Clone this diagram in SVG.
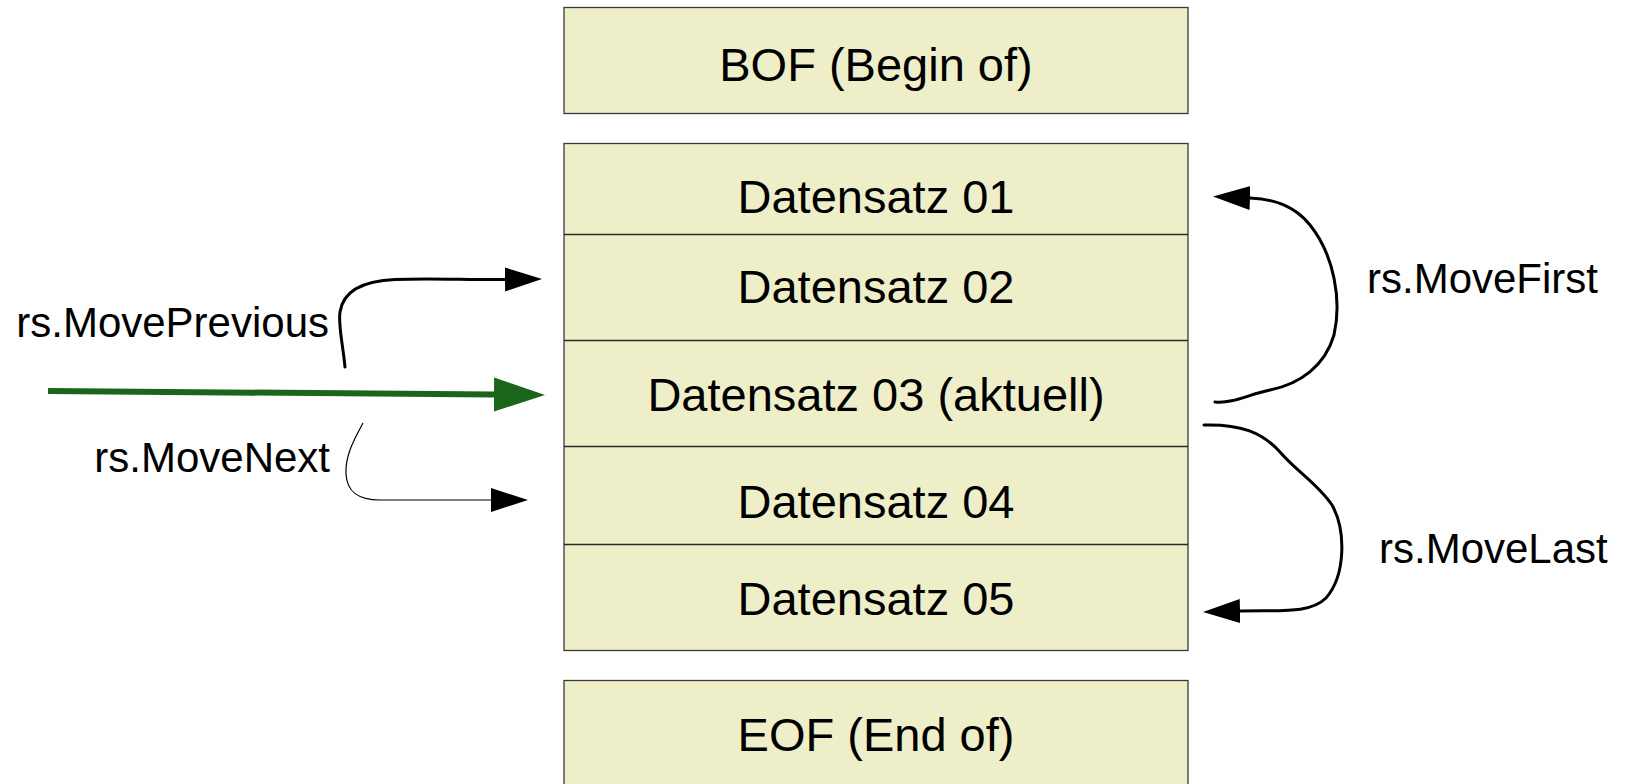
<svg xmlns="http://www.w3.org/2000/svg" width="1626" height="784" viewBox="0 0 1626 784">
  <style>
    .box { fill: #eeeec8; stroke: #3a3a3a; stroke-width: 1.3; }
    .div { stroke: #2a2a2a; stroke-width: 1.3; }
    .rec { font-family: "Liberation Sans", Arial, sans-serif; font-size: 47px; fill: #000; text-anchor: middle; }
    .lbl { font-family: "Liberation Sans", Arial, sans-serif; font-size: 42px; fill: #000; }
    .curve { fill: none; stroke: #000; stroke-width: 3; stroke-linecap: round; }
    .thin { fill: none; stroke: #000; stroke-width: 1.2; }
  </style>
  <defs>
    <marker id="head" markerUnits="userSpaceOnUse" markerWidth="37" markerHeight="26" refX="0" refY="12.5" orient="auto">
      <path d="M0,0.5 L37,12.5 L0,24.5 z" fill="#000"/>
    </marker>
    <marker id="headGreen" markerUnits="userSpaceOnUse" markerWidth="52" markerHeight="36" refX="0" refY="17.5" orient="auto">
      <path d="M0,0.5 L51,17.5 L0,34.5 z" fill="#19661a"/>
    </marker>
  </defs>

  <rect width="1626" height="784" fill="#fff"/>

  <g id="bof">
    <rect class="box" x="564" y="7.5" width="624" height="106"/>
    <text class="rec" x="876" y="81">BOF (Begin of)</text>
  </g>

  <g id="records">
    <rect class="box" x="564" y="143.5" width="624" height="507"/>
  </g>
  <g id="rec01">
    <text class="rec" x="876" y="213">Datensatz 01</text>
  </g>
  <g id="rec02">
    <line class="div" x1="564" y1="234.5" x2="1188" y2="234.5"/>
    <text class="rec" x="876" y="303">Datensatz 02</text>
  </g>
  <g id="rec03">
    <line class="div" x1="564" y1="340.5" x2="1188" y2="340.5"/>
    <text class="rec" x="876" y="411">Datensatz 03 (aktuell)</text>
  </g>
  <g id="rec04">
    <line class="div" x1="564" y1="446.5" x2="1188" y2="446.5"/>
    <text class="rec" x="876" y="518">Datensatz 04</text>
  </g>
  <g id="rec05">
    <line class="div" x1="564" y1="544.5" x2="1188" y2="544.5"/>
    <text class="rec" x="876" y="615">Datensatz 05</text>
  </g>

  <g id="eof">
    <rect class="box" x="564" y="680.5" width="624" height="110"/>
    <text class="rec" x="876" y="751">EOF (End of)</text>
  </g>

  <g id="labels">
    <text class="lbl" x="329" y="337" text-anchor="end">rs.MovePrevious</text>
    <text class="lbl" x="330" y="472" text-anchor="end">rs.MoveNext</text>
    <text class="lbl" x="1367" y="293">rs.MoveFirst</text>
    <text class="lbl" x="1379" y="563">rs.MoveLast</text>
  </g>

  <g id="connectors">
    <!-- current record pointer -->
    <path d="M48,391 L494,394.5" fill="none" stroke="#19661a" stroke-width="6" marker-end="url(#headGreen)"/>
    <!-- MovePrevious -->
    <path class="curve" d="M345,367 C343,345 338,325 340,312 C343,292 360,281 395,279.5 C430,278 470,280 505,279.5" marker-end="url(#head)"/>
    <!-- MoveNext -->
    <path class="thin" d="M363,423 C355,438 345,455 346,474 C347,492 358,500 380,500 L491,500" marker-end="url(#head)"/>
    <!-- MoveFirst -->
    <path class="curve" d="M1215,402 C1232,404 1250,394 1270,390 C1300,384 1325,366 1334,335 C1342,300 1334,255 1310,225 C1295,206 1275,199 1250,198" marker-end="url(#head)"/>
    <!-- MoveLast -->
    <path class="curve" d="M1204,425 C1240,424 1262,432 1280,452 C1295,470 1318,484 1332,505 C1346,530 1346,575 1326,598 C1310,614 1280,610 1240,611" marker-end="url(#head)"/>
  </g>
</svg>
